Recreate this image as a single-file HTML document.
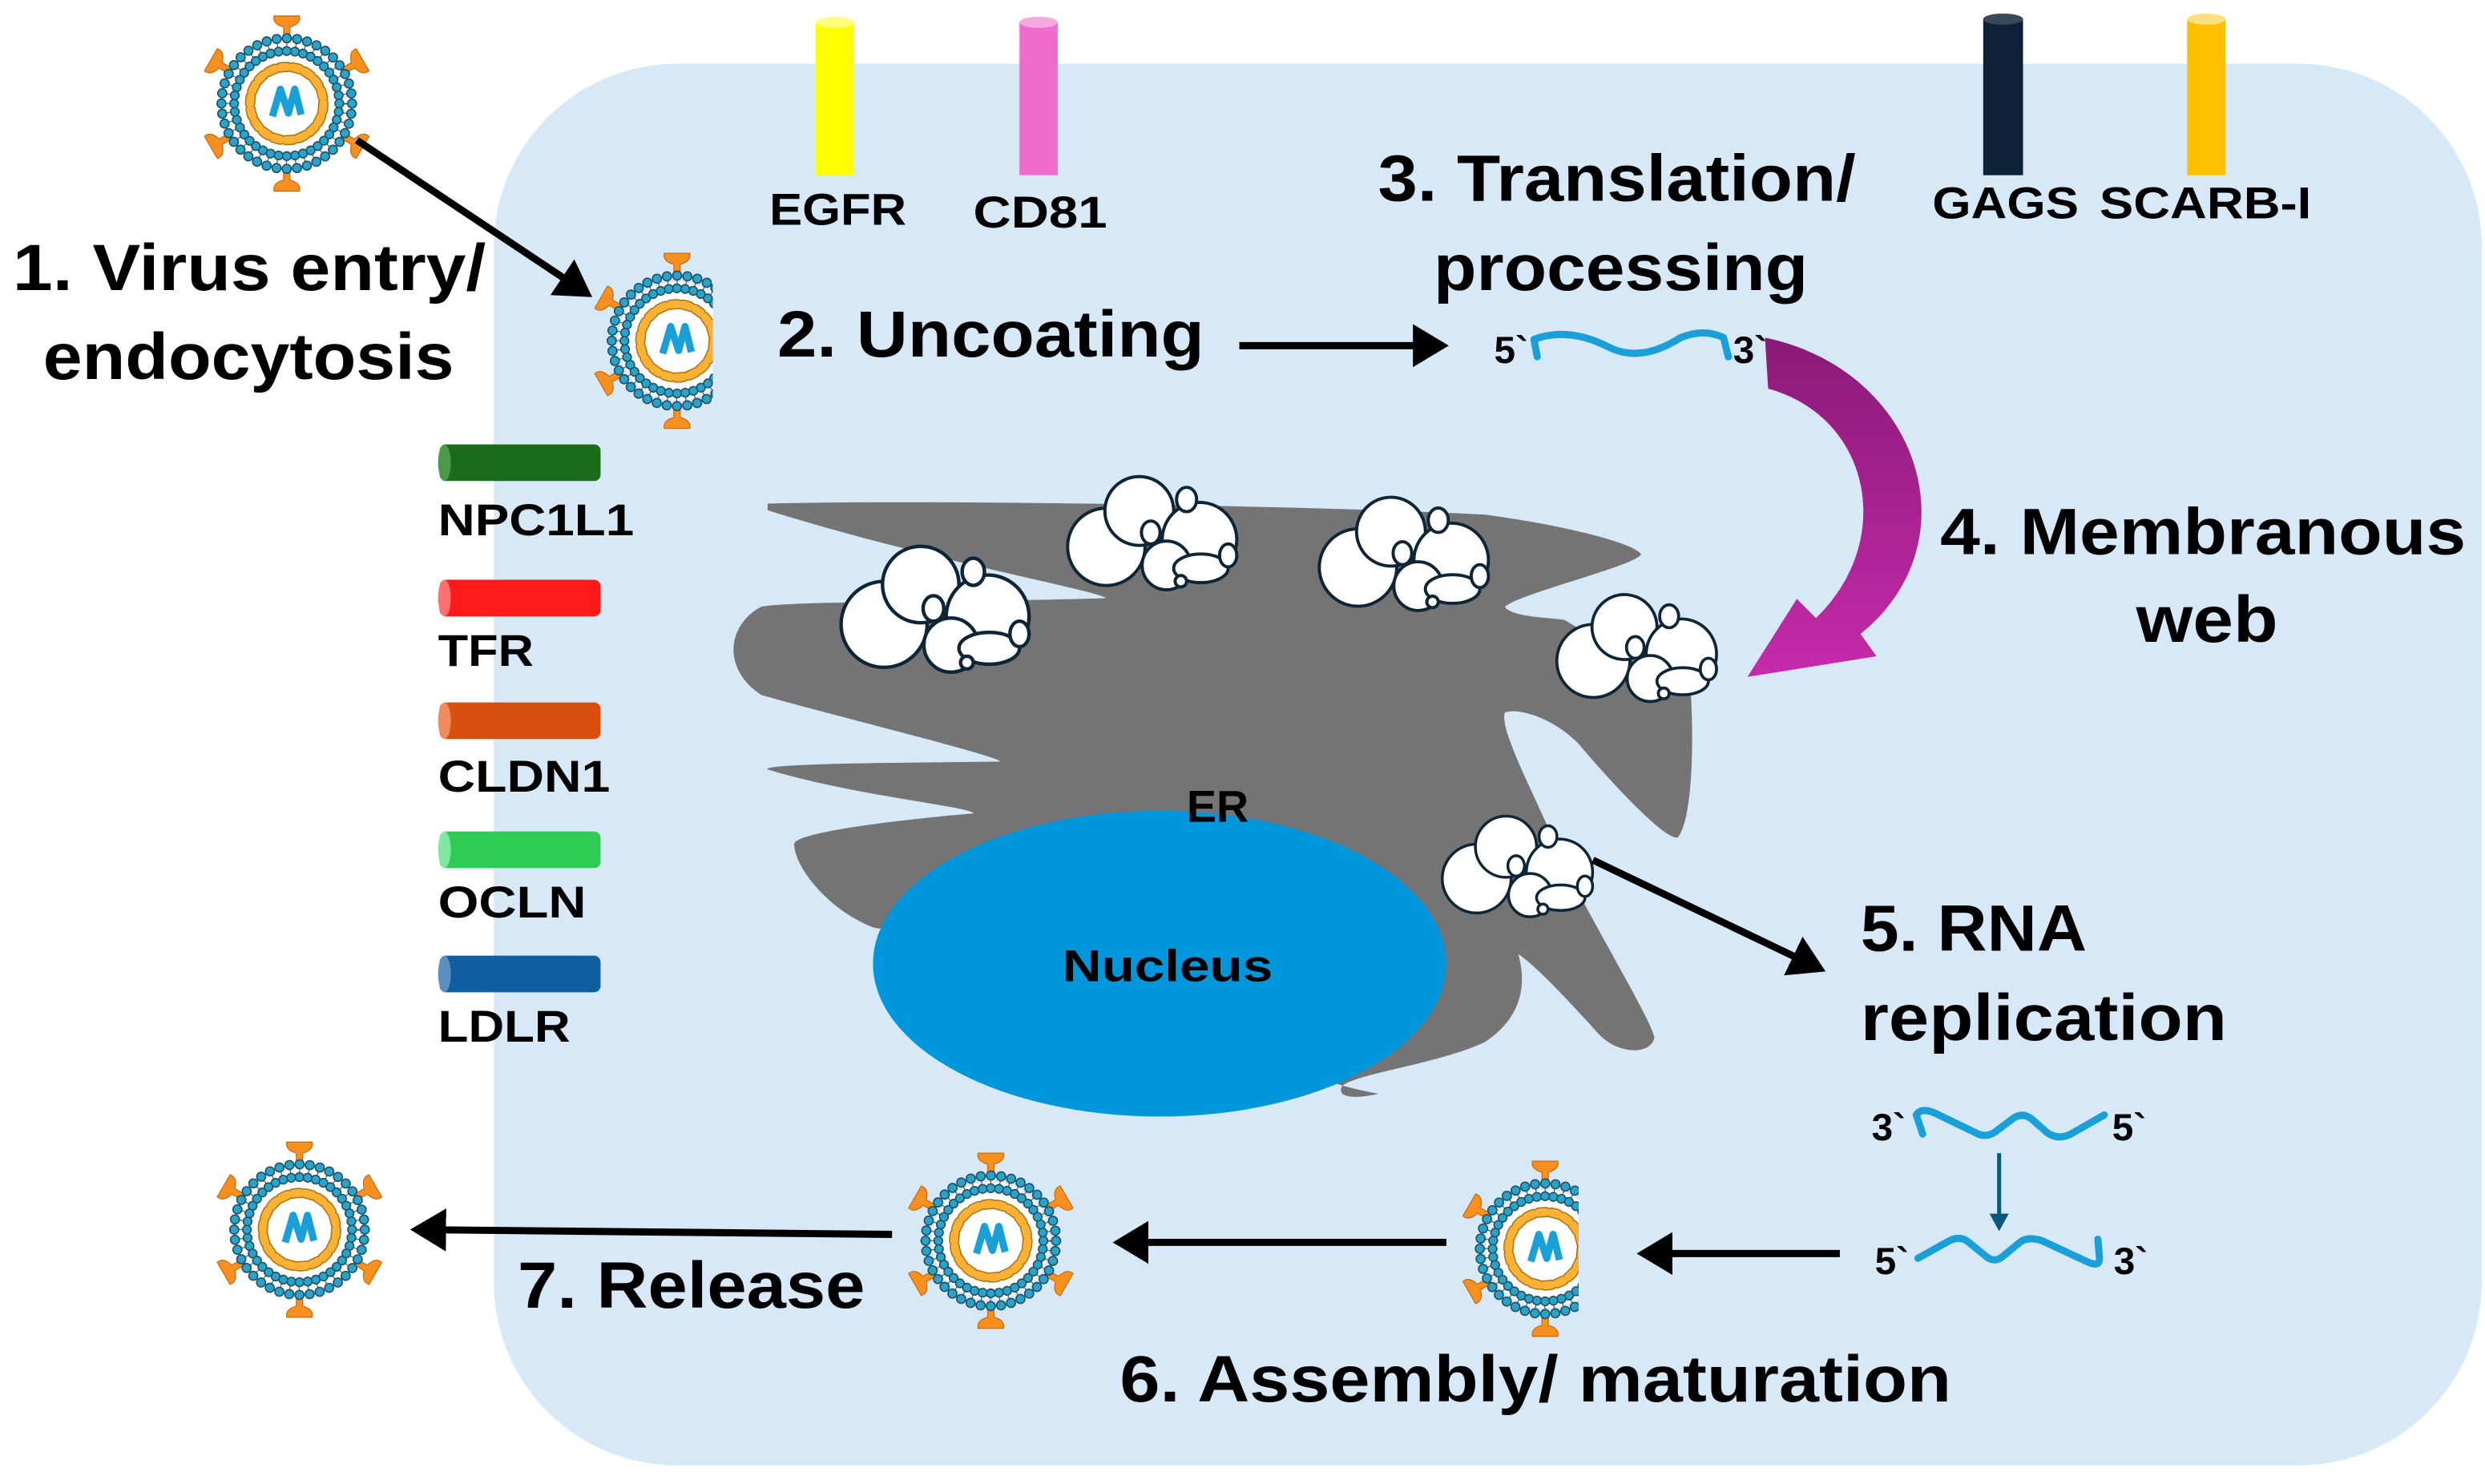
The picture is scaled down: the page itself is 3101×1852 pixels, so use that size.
<!DOCTYPE html>
<html><head><meta charset="utf-8"><style>
html,body{margin:0;padding:0;background:#fff}
svg{display:block}
text{font-family:"Liberation Sans",Arial,sans-serif;font-weight:bold;fill:#000}
</style></head><body>
<svg width="3101" height="1852" viewBox="0 0 1560 931.7" xmlns="http://www.w3.org/2000/svg">
<defs>
<g id="spike"><path d="M-2,-40 L-2,-48 Q-9,-50 -8,-55 L8,-55 Q9,-50 2,-48 L2,-40 Z" fill="#f7901e" stroke="#c56a10" stroke-width="0.6"/></g>
<g id="virus">
<use href="#spike"/><use href="#spike" transform="rotate(60)"/><use href="#spike" transform="rotate(120)"/><use href="#spike" transform="rotate(180)"/><use href="#spike" transform="rotate(240)"/><use href="#spike" transform="rotate(300)"/>
<circle r="37" fill="#fff"/>
<circle r="37" fill="none" stroke="#555" stroke-width="6" stroke-dasharray="0.6 5.2"/>
<circle r="41" fill="none" stroke="#1d4f66" stroke-width="6.4" stroke-dasharray="0 6.44" stroke-linecap="round"/>
<circle r="41" fill="none" stroke="#2aa3c8" stroke-width="4.8" stroke-dasharray="0 6.44" stroke-linecap="round"/>
<circle r="33" fill="none" stroke="#1d4f66" stroke-width="6.2" stroke-dasharray="0 5.18" stroke-linecap="round"/>
<circle r="33" fill="none" stroke="#2aa3c8" stroke-width="4.6" stroke-dasharray="0 5.18" stroke-linecap="round"/>
<circle r="23" fill="none" stroke="#b07010" stroke-width="6.5" stroke-dasharray="4.5 3.5" stroke-linecap="round"/>
<circle r="23" fill="none" stroke="#f9b233" stroke-width="5" stroke-dasharray="4.5 3.5" stroke-linecap="round"/>
<path d="M-9,8 L-4,-9 L1,6 L5,-9 L9,7" fill="none" stroke="#1aa0d8" stroke-width="4.5" stroke-linejoin="round"/>
</g>
<g id="ves" stroke="#0d2535" stroke-width="2.2" fill="#fff">
<circle cx="-35" cy="7" r="27"/>
<circle cx="-12" cy="-18" r="24"/>
<circle cx="30" cy="2" r="26"/>
<circle cx="7" cy="20" r="17"/>
<ellipse cx="31" cy="22" rx="19" ry="10"/>
<ellipse cx="21" cy="-26" rx="7" ry="8.5"/>
<ellipse cx="-4" cy="-3" rx="6.5" ry="8"/>
<ellipse cx="50" cy="13" rx="6" ry="8"/>
<circle cx="17" cy="31" r="4"/>
</g>
<clipPath id="c2"><rect x="360" y="150" width="87.5" height="130"/></clipPath>
<clipPath id="c5"><rect x="900" y="720" width="91" height="130"/></clipPath>
<marker id="ah" markerWidth="6" markerHeight="6" refX="4" refY="3" orient="auto" markerUnits="strokeWidth"><path d="M0,0 L5,3 L0,6 Z" fill="#000"/></marker>
<linearGradient id="mg" x1="0" y1="0" x2="0" y2="1"><stop offset="0" stop-color="#8a1a78"/><stop offset="1" stop-color="#c52aaa"/></linearGradient>
</defs>

<rect x="310" y="40" width="1248" height="880" rx="115" fill="#d7e9f7"/>

<g>
<rect x="512" y="14" width="24" height="96" fill="#ffff00"/><ellipse cx="524" cy="14" rx="12" ry="3.5" fill="#ffff80"/>
<rect x="640" y="14" width="24" height="96" fill="#f06ccc"/><ellipse cx="652" cy="14" rx="12" ry="3.5" fill="#f7a8e0"/>
<rect x="1245" y="12" width="25" height="98" fill="#0d2238"/><ellipse cx="1257.5" cy="12" rx="12.5" ry="3.5" fill="#3a4a5a"/>
<rect x="1373" y="12" width="24" height="98" fill="#ffc000"/><ellipse cx="1385" cy="12" rx="12" ry="3.5" fill="#ffe080"/>
</g>
<text x="483" y="141" font-size="28" textLength="86" lengthAdjust="spacingAndGlyphs">EGFR</text>
<text x="611" y="143" font-size="28" textLength="84" lengthAdjust="spacingAndGlyphs">CD81</text>
<text x="1213" y="137" font-size="28" textLength="92" lengthAdjust="spacingAndGlyphs">GAGS</text>
<text x="1318" y="137" font-size="28" textLength="133" lengthAdjust="spacingAndGlyphs">SCARB-I</text>

<g>
<rect x="276" y="279" width="101" height="23" rx="4" fill="#1a6b1a"/><ellipse cx="279" cy="290.5" rx="4" ry="11.5" fill="#4a9a4a"/>
<rect x="276" y="364" width="101" height="23" rx="4" fill="#ff1a1a"/><ellipse cx="279" cy="375.5" rx="4" ry="11.5" fill="#ff7070"/>
<rect x="276" y="441" width="101" height="23" rx="4" fill="#d94f10"/><ellipse cx="279" cy="452.5" rx="4" ry="11.5" fill="#f08a5a"/>
<rect x="276" y="522" width="101" height="23" rx="4" fill="#2ecc55"/><ellipse cx="279" cy="533.5" rx="4" ry="11.5" fill="#80e8a0"/>
<rect x="276" y="600" width="101" height="23" rx="4" fill="#0f5fa0"/><ellipse cx="279" cy="611.5" rx="4" ry="11.5" fill="#5a90c0"/>
</g>
<text x="275" y="336" font-size="28" textLength="123" lengthAdjust="spacingAndGlyphs">NPC1L1</text>
<text x="275" y="418" font-size="28" textLength="60" lengthAdjust="spacingAndGlyphs">TFR</text>
<text x="275" y="497" font-size="28" textLength="108" lengthAdjust="spacingAndGlyphs">CLDN1</text>
<text x="275" y="576" font-size="28" textLength="93" lengthAdjust="spacingAndGlyphs">OCLN</text>
<text x="275" y="654" font-size="28" textLength="83" lengthAdjust="spacingAndGlyphs">LDLR</text>

<path transform="translate(452.7,281.7) scale(0.417,0.2759)" fill="#747474" d="M70,125 C300,115 900,130 1150,150 C1250,170 1370,210 1385,240 C1380,265 1200,330 1180,360 C1190,385 1260,385 1270,390 L1460,560 C1465,700 1460,850 1440,885 C1420,890 1340,760 1290,670 C1250,610 1200,590 1180,600 C1170,640 1230,800 1270,950 C1320,1100 1400,1300 1405,1340 C1400,1380 1350,1380 1320,1330 C1290,1280 1230,1180 1200,1150 C1215,1230 1200,1300 1150,1350 C1080,1400 960,1420 935,1450 C925,1478 955,1480 990,1468 C960,1460 920,1445 900,1430 L900,1250 L230,1090 C160,1050 110,950 110,900 C110,870 300,840 380,830 C380,815 200,790 70,730 C60,715 300,715 420,712 C420,700 150,600 60,560 C0,500 10,400 60,360 C100,345 400,350 580,340 C560,320 300,250 70,140 Z"/>
<ellipse cx="728" cy="605" rx="180" ry="96" fill="#0096dc"/>
<text x="745" y="516" font-size="28">ER</text>
<text x="667" y="616" font-size="28" textLength="132" lengthAdjust="spacingAndGlyphs">Nucleus</text>

<use href="#ves" transform="translate(590,385)"/>
<use href="#ves" transform="translate(726,337) scale(0.9)"/>
<use href="#ves" transform="translate(884,350) scale(0.9)"/>
<use href="#ves" transform="translate(1030,409) scale(0.85)"/>
<use href="#ves" transform="translate(955,546) scale(0.8)"/>

<use href="#virus" transform="translate(180,65)"/>
<g clip-path="url(#c2)"><use href="#virus" transform="translate(425,214)"/></g>
<g clip-path="url(#c5)"><use href="#virus" transform="translate(970,784)"/></g>
<use href="#virus" transform="translate(622,779)"/>
<use href="#virus" transform="translate(188,772)"/>

<g stroke="#000" stroke-width="4.5" fill="none" marker-end="url(#ah)">
<line x1="224" y1="88" x2="368" y2="184"/>
<line x1="778" y1="217" x2="905" y2="217"/>
<line x1="1000" y1="540" x2="1142" y2="608"/>
<line x1="1155" y1="787" x2="1032" y2="787"/>
<line x1="908" y1="780" x2="703" y2="780"/>
<line x1="560" y1="775" x2="262" y2="772"/>
</g>
<path fill="url(#mg)" d="M1108,212 C1205,232 1240,340 1168,398 L1178,412 L1097,425 L1128,376 L1140,388 C1190,340 1175,262 1110,244 Z"/>

<text x="938" y="228" font-size="24">5`</text>
<path d="M965,224 L963,213 Q985,205 1010,218 Q1030,228 1055,212 Q1070,206 1082,212 L1085,224" fill="none" stroke="#1aa0d8" stroke-width="4.5" stroke-linejoin="round" stroke-linecap="round"/>
<text x="1088" y="228" font-size="24">3`</text>
<text x="1175" y="716" font-size="24">3`</text>
<path d="M1207,712 L1203,700 Q1206,695 1215,699 L1242,712 Q1247,714 1252,711 L1264,702 Q1270,698 1276,703 L1285,711 Q1292,716 1300,712 L1321,700" fill="none" stroke="#1aa0d8" stroke-width="4.5" stroke-linejoin="round" stroke-linecap="round"/>
<text x="1326" y="716" font-size="24">5`</text>
<line x1="1255" y1="724" x2="1255" y2="763" stroke="#00587a" stroke-width="2.5"/>
<path d="M1249,762 L1261,762 L1255,773 Z" fill="#00587a"/>
<text x="1177" y="800" font-size="24">5`</text>
<path d="M1204,790 L1222,780 Q1230,775 1236,780 L1247,789 Q1252,793 1257,789 L1268,780 Q1273,776 1282,779 L1310,792 Q1318,796 1318,790 L1317,778" fill="none" stroke="#1aa0d8" stroke-width="4.5" stroke-linejoin="round" stroke-linecap="round"/>
<text x="1327" y="800" font-size="24">3`</text>

<text x="8" y="182" font-size="41" textLength="297" lengthAdjust="spacingAndGlyphs">1. Virus entry/</text>
<text x="27" y="238" font-size="41" textLength="258" lengthAdjust="spacingAndGlyphs">endocytosis</text>
<text x="488" y="224" font-size="41" textLength="268" lengthAdjust="spacingAndGlyphs">2. Uncoating</text>
<text x="865" y="126" font-size="41" textLength="300" lengthAdjust="spacingAndGlyphs">3. Translation/</text>
<text x="900" y="182" font-size="41" textLength="235" lengthAdjust="spacingAndGlyphs">processing</text>
<text x="1218" y="348" font-size="41" textLength="330" lengthAdjust="spacingAndGlyphs">4. Membranous</text>
<text x="1341" y="403" font-size="41" textLength="89" lengthAdjust="spacingAndGlyphs">web</text>
<text x="1168" y="597" font-size="41" textLength="142" lengthAdjust="spacingAndGlyphs">5. RNA</text>
<text x="1168" y="653" font-size="41" textLength="230" lengthAdjust="spacingAndGlyphs">replication</text>
<text x="703" y="880" font-size="41" textLength="522" lengthAdjust="spacingAndGlyphs">6. Assembly/ maturation</text>
<text x="325" y="821" font-size="41" textLength="218" lengthAdjust="spacingAndGlyphs">7. Release</text>
</svg>
</body></html>
